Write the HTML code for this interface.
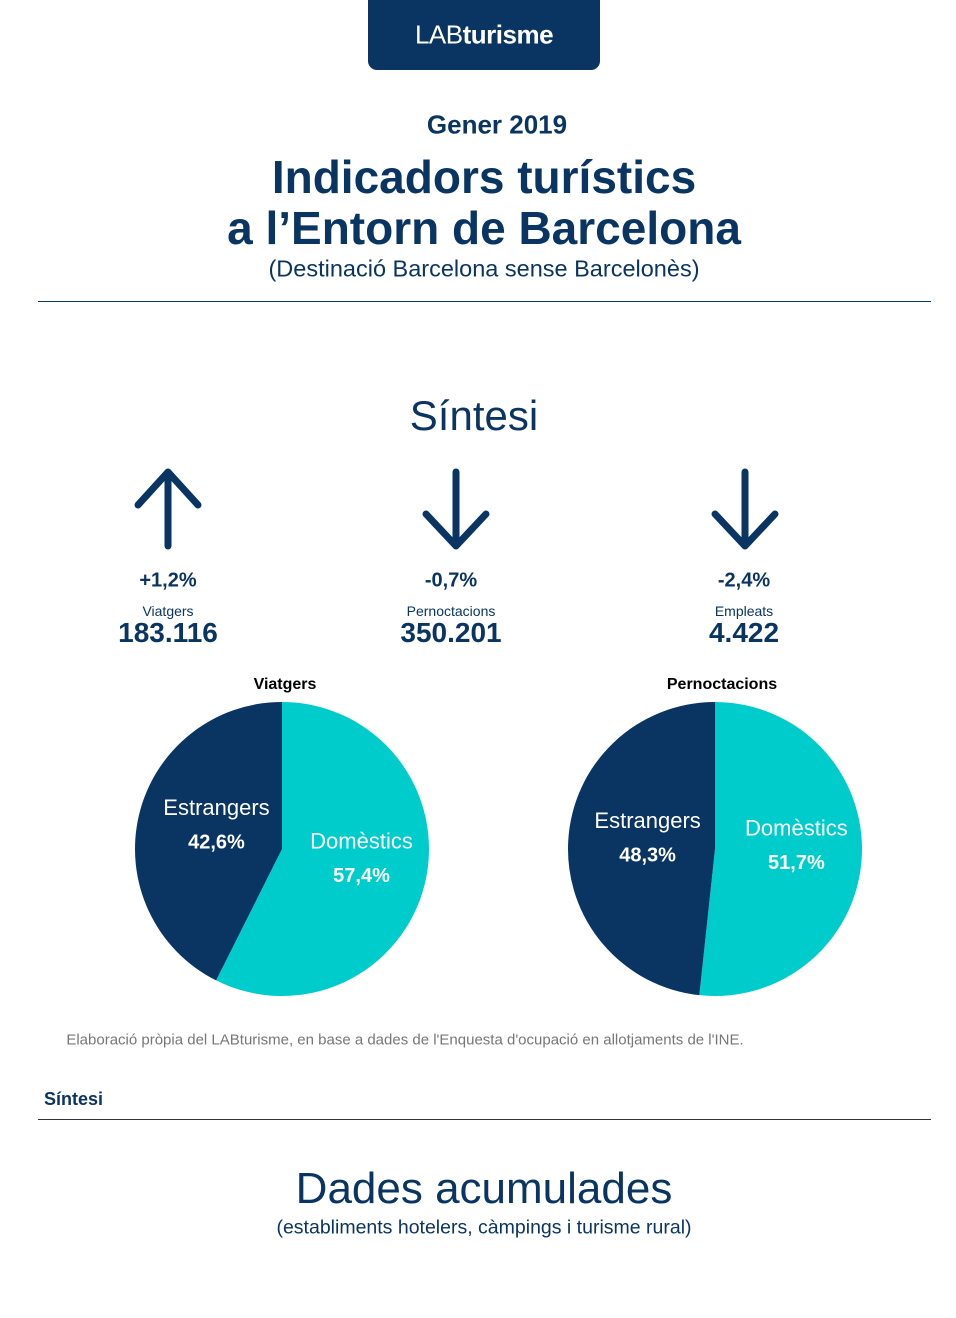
<!DOCTYPE html>
<html><head><meta charset="utf-8"><style>
html,body{margin:0;padding:0;background:#fff;}
body{width:956px;height:1318px;position:relative;overflow:hidden;font-family:"Liberation Sans",sans-serif;color:#0a3563;}
.t{position:absolute;white-space:nowrap;transform:translate(-50%,-50%);}
</style></head><body>
<div style="position:absolute;left:368px;top:0;width:232px;height:70px;background:#0a3563;border-radius:0 0 9px 9px;"></div>
<div class="t" style="left:484px;top:35px;color:#fff;font-size:26px;letter-spacing:-0.5px;">LAB<b>turisme</b></div>
<div class="t" style="left:497px;top:125px;font-size:26px;font-weight:bold;">Gener 2019</div>
<div class="t" style="left:484px;top:177px;font-size:46px;font-weight:bold;">Indicadors turístics</div>
<div class="t" style="left:484px;top:228px;font-size:46px;font-weight:bold;">a l’Entorn de Barcelona</div>
<div class="t" style="left:484px;top:269px;font-size:23.5px;">(Destinació Barcelona sense Barcelonès)</div>
<div style="position:absolute;left:38px;top:301px;width:893px;height:1px;background:#0a3563;"></div>
<div class="t" style="left:474px;top:416px;font-size:42px;">Síntesi</div>

<svg width="956" height="1318" style="position:absolute;left:0;top:0">
<g stroke="#0a3563" stroke-width="7" stroke-linecap="round" stroke-linejoin="round" fill="none">
<path d="M168 546V472M138 505L168 472L198 505"/>
<path d="M456 472V546M426 514L456 546L486 514"/>
<path d="M745 472V546M715 514L745 546L775 514"/>
</g></svg>

<div class="t" style="left:168px;top:581px;font-size:20px;font-weight:bold;">+1,2%</div>
<div class="t" style="left:168px;top:611px;font-size:14px;">Viatgers</div>
<div class="t" style="left:168px;top:633px;font-size:28px;font-weight:bold;">183.116</div>
<div class="t" style="left:451px;top:581px;font-size:20px;font-weight:bold;">-0,7%</div>
<div class="t" style="left:451px;top:611px;font-size:14px;">Pernoctacions</div>
<div class="t" style="left:451px;top:633px;font-size:28px;font-weight:bold;">350.201</div>
<div class="t" style="left:744px;top:581px;font-size:20px;font-weight:bold;">-2,4%</div>
<div class="t" style="left:744px;top:611px;font-size:14px;">Empleats</div>
<div class="t" style="left:744px;top:633px;font-size:28px;font-weight:bold;">4.422</div>

<div class="t" style="left:285px;top:685px;font-size:16px;font-weight:bold;color:#000;">Viatgers</div>
<div class="t" style="left:722px;top:685px;font-size:16px;font-weight:bold;color:#000;">Pernoctacions</div>

<svg id="pies" width="956" height="1318" style="position:absolute;left:0;top:0"></svg>

<div class="t" style="left:405px;top:1040px;font-size:15px;color:#777;">Elaboració pròpia del LABturisme, en base a dades de l'Enquesta d'ocupació en allotjaments de l'INE.</div>
<div style="position:absolute;left:44px;top:1089px;font-size:18px;font-weight:bold;">Síntesi</div>
<div style="position:absolute;left:38px;top:1119px;width:893px;height:1px;background:#333;"></div>
<div class="t" style="left:484px;top:1189px;font-size:44px;">Dades acumulades</div>
<div class="t" style="left:484px;top:1228px;font-size:19.5px;">(establiments hotelers, càmpings i turisme rural)</div>

<script>
const pieTitles = ["Viatgers", "Pernoctacions"];
const categories = ["Domèstics", "Estrangers"];
const domesticShare = [57.4, 51.7];
const foreignShare = [42.6, 48.3];
const colors = ["#00cccc", "#0a3563"];
const centers = [[282, 849], [715, 849]];
const R = 147;
const NS = "http://www.w3.org/2000/svg";
const svg = document.getElementById("pies");
function pt(cx, cy, frac, r) { const a = frac * 2 * Math.PI; return [cx + r * Math.sin(a), cy - r * Math.cos(a)]; }
const fmt = v => v.toFixed(1).replace(".", ",") + "%";
pieTitles.forEach((t, i) => {
  const [cx, cy] = centers[i];
  const vals = [domesticShare[i], foreignShare[i]];
  const tot = vals[0] + vals[1];
  let start = 0;
  vals.forEach((v, j) => {
    const f = v / tot, end = start + f;
    const [x1, y1] = pt(cx, cy, start, R), [x2, y2] = pt(cx, cy, end, R);
    const p = document.createElementNS(NS, "path");
    p.setAttribute("d", `M${cx} ${cy}L${x1} ${y1}A${R} ${R} 0 ${f > 0.5 ? 1 : 0} 1 ${x2} ${y2}Z`);
    p.setAttribute("fill", colors[j]);
    
    
    svg.appendChild(p);
    const mid = start + f / 2;
    const [lx0, ly] = pt(cx, cy, mid, R * 0.5);
    const lx = lx0 + (j === 0 ? 8 : 6);
    const lines = [[categories[j], 22, "normal", -23], [fmt(v), 20, "bold", 11]];
    lines.forEach(([s, fs, fw, dy]) => {
      const tx = document.createElementNS(NS, "text");
      tx.setAttribute("x", lx); tx.setAttribute("y", ly + dy);
      tx.setAttribute("text-anchor", "middle");
      tx.setAttribute("dominant-baseline", "middle");
      tx.setAttribute("fill", "#fff");
      tx.setAttribute("font-size", fs); tx.setAttribute("font-weight", fw);
      tx.setAttribute("font-family", "Liberation Sans, sans-serif");
      tx.textContent = s;
      
      
      svg.appendChild(tx);
    });
    start = end;
  });
});
</script>
</body></html>
